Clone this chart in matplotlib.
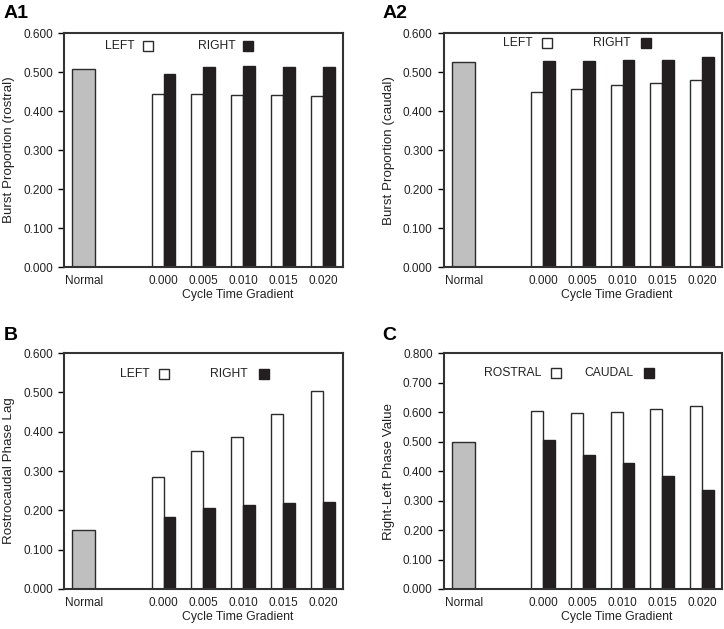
import numpy as np
import matplotlib.pyplot as plt

plt.rcParams['font.family'] = ['Liberation Sans', 'DejaVu Sans']

# categories (blank slot between Normal and the gradient groups)
categories = ["Normal", "", "0.000", "0.005", "0.010", "0.015", "0.020"]
gradients = ["0.000", "0.005", "0.010", "0.015", "0.020"]

# A1 - burst proportion (rostral)
a1_normal = 0.509
a1_left = [0.443, 0.443, 0.441, 0.440, 0.438]
a1_right = [0.496, 0.514, 0.516, 0.514, 0.514]

# A2 - burst proportion (caudal)
a2_normal = 0.525
a2_left = [0.450, 0.457, 0.466, 0.471, 0.479]
a2_right = [0.528, 0.528, 0.530, 0.532, 0.538]

# B - rostrocaudal phase lag
b_normal = 0.150
b_left = [0.286, 0.350, 0.386, 0.445, 0.504]
b_right = [0.184, 0.205, 0.214, 0.219, 0.221]

# C - right-left phase value
c_normal = 0.500
c_rostral = [0.603, 0.597, 0.601, 0.609, 0.620]
c_caudal = [0.505, 0.455, 0.428, 0.382, 0.336]

GRAY = "#bfbfbf"
DARK = "#231f20"
EDGE = "#2b2b2b"
TXT = "#222222"

fig = plt.figure(figsize=(7.24, 6.29), dpi=100)


def panel(rect, normal, white, black, ylabel, ymax, letter, leg_names, leg_pos, leg_y, letter_xy):
    ax = fig.add_axes(rect)
    x = np.arange(len(categories))
    gx = x[2:]
    w = 0.3
    ax.bar(x[0], normal, width=0.58, color=GRAY, edgecolor=EDGE, linewidth=1.0)
    ax.bar(gx - w / 2, white, width=w, color="white", edgecolor=EDGE, linewidth=1.0)
    ax.bar(gx + w / 2, black, width=w, color=DARK, edgecolor=DARK, linewidth=1.0)
    ax.set_xlim(-0.5, len(categories) - 0.5)
    ax.set_ylim(0, ymax)
    yt = np.arange(0, ymax + 0.001, 0.1)
    ax.set_yticks(yt)
    ax.set_yticklabels(["%.3f" % v for v in yt], fontsize=8.5, color=TXT)
    ax.set_xticks(x)
    ax.set_xticklabels(categories, fontsize=8.5, color=TXT)
    ax.tick_params(axis="x", length=0, pad=6)
    ax.tick_params(axis="y", length=4, width=1, direction="out", pad=4)
    for s in ax.spines.values():
        s.set_linewidth(1.5)
        s.set_color("#333333")
    ax.set_ylabel(ylabel, fontsize=9.6, color=TXT, labelpad=6)
    # x label centered under the gradient groups
    ax.text(3.85, -0.12, "Cycle Time Gradient", transform=ax.get_xaxis_transform(),
            ha="center", va="center", fontsize=8.8, color=TXT)
    # legend drawn as text + square
    (t1, s1), (t2, s2) = leg_pos
    ax.text(t1, leg_y, leg_names[0], transform=ax.transAxes, ha="left", va="center", fontsize=8.7, color=TXT)
    ax.plot([s1], [leg_y], marker="s", markersize=7.5, markerfacecolor="white",
            markeredgecolor=EDGE, markeredgewidth=1.0, transform=ax.transAxes, clip_on=False)
    ax.text(t2, leg_y, leg_names[1], transform=ax.transAxes, ha="left", va="center", fontsize=8.7, color=TXT)
    ax.plot([s2], [leg_y], marker="s", markersize=7.5, markerfacecolor=DARK,
            markeredgecolor=DARK, markeredgewidth=1.0, transform=ax.transAxes, clip_on=False)
    fig.text(letter_xy[0], letter_xy[1], letter, fontsize=14, fontweight="bold", ha="left", va="center")
    return ax


panel([0.0884, 0.5755, 0.385, 0.372], a1_normal, a1_left, a1_right,
      "Burst Proportion (rostral)", 0.6, "A1", ["LEFT", "RIGHT"],
      [(0.148, 0.30), (0.48, 0.66)], 0.944, (0.005, 0.978))
panel([0.613, 0.5755, 0.384, 0.372], a2_normal, a2_left, a2_right,
      "Burst Proportion (caudal)", 0.6, "A2", ["LEFT", "RIGHT"],
      [(0.212, 0.37), (0.535, 0.728)], 0.957, (0.528, 0.978))
panel([0.0884, 0.0636, 0.385, 0.375], b_normal, b_left, b_right,
      "Rostrocaudal Phase Lag", 0.6, "B", ["LEFT", "RIGHT"],
      [(0.2, 0.36), (0.525, 0.718)], 0.91, (0.005, 0.467))
panel([0.613, 0.0636, 0.384, 0.375], c_normal, c_rostral, c_caudal,
      "Right-Left Phase Value", 0.8, "C", ["ROSTRAL", "CAUDAL"],
      [(0.145, 0.405), (0.505, 0.738)], 0.915, (0.528, 0.467))

fig.savefig("out.png", dpi=100)
